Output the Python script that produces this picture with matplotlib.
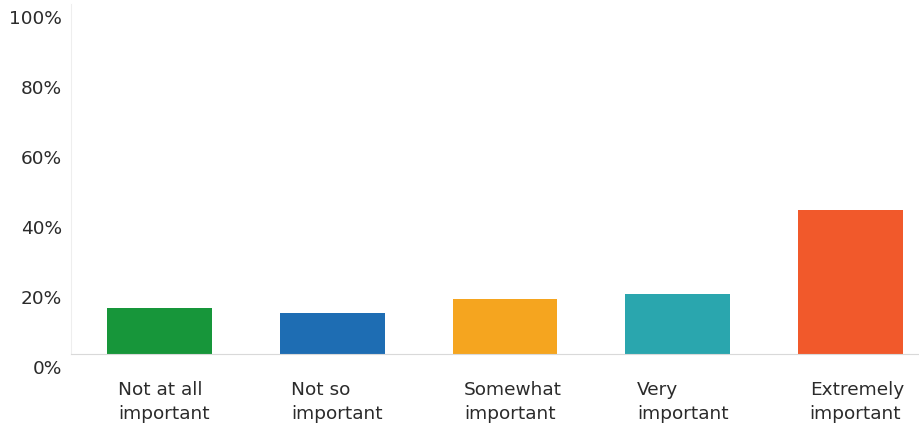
import matplotlib
matplotlib.use("Agg")
import matplotlib.pyplot as plt
import matplotlib.transforms as mtransforms

# dados
categorias = ["Not at all\nimportant", "Not so\nimportant", "Somewhat\nimportant",
              "Very\nimportant", "Extremely\nimportant"]
percentagens = [13.2, 11.7, 15.6, 17.2, 41.2]
cores = ["#17963a", "#1e6db3", "#f5a51f", "#2aa6ae", "#f1592b"]
yticks = [0, 20, 40, 60, 80, 100]
ytick_labels = ["0%", "20%", "40%", "60%", "80%", "100%"]

plt.rcParams["font.family"] = ["DejaVu Sans"]

fig = plt.figure(figsize=(9.2, 4.32), dpi=100)
# eixo: x de 71 a 920 px, y de 4 a 354 px (a contar de cima)
ax = fig.add_axes([71 / 920, (432 - 354) / 432, (920 - 71) / 920, 350 / 432])

x = list(range(len(categorias)))
ax.bar(x, percentagens, width=0.607, color=cores, zorder=2)

ax.set_xlim(-0.51, 4.40)
ax.set_ylim(0, 100)

ax.set_yticks(yticks)
ax.set_yticklabels(ytick_labels, fontsize=13.3, color="#2b2b2b")
ax.tick_params(axis="y", length=0, pad=6.5)
# rotulos do eixo y ficam um pouco abaixo da linha (como no original)
off = mtransforms.ScaledTranslation(0, -13 / 100, fig.dpi_scale_trans)
for lbl in ax.get_yticklabels():
    lbl.set_transform(lbl.get_transform() + off)

ax.set_xticks([])
for i, cat in enumerate(categorias):
    ax.text(i - 0.303 + 0.065, -7.8, cat, ha="left", va="top", fontsize=13.3,
            color="#2b2b2b", linespacing=1.38)

for s in ["top", "right"]:
    ax.spines[s].set_visible(False)
ax.spines["left"].set_color("#eeeeee")
ax.spines["bottom"].set_color("#d9d9d9")
ax.spines["bottom"].set_linestyle((0, (2, 1)))

fig.savefig("out.png", dpi=100)
